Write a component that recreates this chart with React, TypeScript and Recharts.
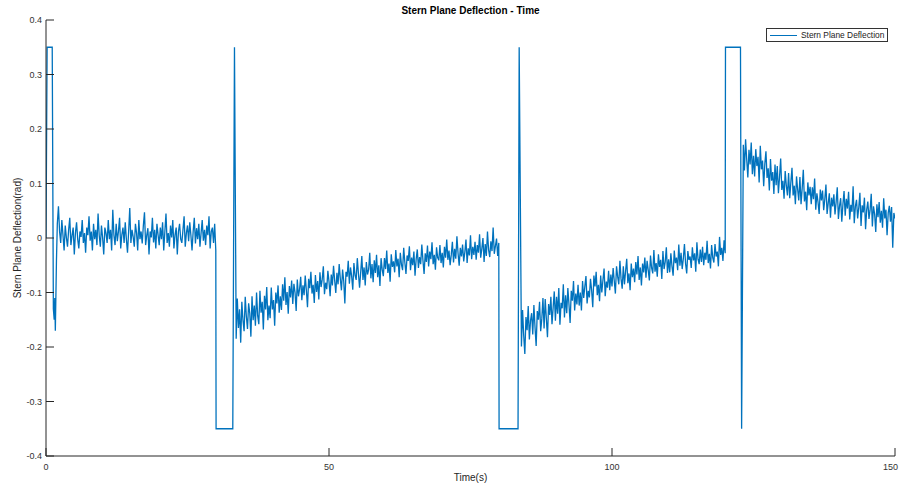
import { LineChart, Line, XAxis, YAxis } from 'recharts'

const FONT = '"Liberation Sans", Arial, Helvetica, sans-serif'
const AXIS = '#262626'
const BLUE = '#0072BD'

const xTicks = [0, 50, 100, 150]
const yTicks = [-0.4, -0.3, -0.2, -0.1, 0, 0.1, 0.2, 0.3, 0.4]

// sample spacing (s) of the noisy stretches; values below are in milli-rad
const STEP = 0.2

// step inputs between the noisy stretches: [time s, rad]
const pulseStart = [[0, 0], [0.2, 0.35], [1.1, 0.35], [1.3, -0.13], [1.45, -0.15], [1.55, -0.11], [1.65, -0.17], [1.85, -0.04]]
const pulseDown1 = [[30.05, -0.35], [33.0, -0.35], [33.3, 0.35]]
const pulseDown2 = [[80.05, -0.35], [83.4, -0.35], [83.6, 0.35]]
const pulseUp = [[120.05, 0.35], [122.7, 0.35], [122.9, -0.35]]

// t = 2.0 .. 30.0
const segA = [
  26, 58, 12, -9, 33, 5, -23, 23, 1, -16,
  15, 37, -13, 5, 19, -30, 9, 29, -2, -19,
  12, 2, 33, -9, 9, -27, 19, 5, 40, -5,
  12, -23, 26, -2, 15, -13, 45, 5, -16, 23,
  1, -30, 19, 9, -9, 33, -2, 15, -23, 52,
  5, -13, 26, -6, 12, 37, -19, 6, 19, -9,
  29, -2, -27, 12, 55, -9, 15, 2, -16, 26,
  9, -23, 33, -2, 12, -10, 23, 47, -13, 5,
  18, -30, 12, 1, 37, -8, 15, -19, 26, 6,
  -13, 19, -2, 29, -23, 12, 45, -9, 9, -16,
  23, 1, 33, -19, 6, 19, -30, 12, 26, -2,
  -9, 15, 40, -16, 9, 23, -6, 29, 5, -23,
  12, 37, -10, 18, -2, 26, -16, 9, 33, -5,
  15, -13, 23, 5, 40, -19, 12, 19, -9, 26,
  -23,
]

// t = 33.6 .. 80.0
const segB = [
  -185, -111, -165, -131, -192, -117, -151, -171, -108, -144,
  -167, -120, -138, -181, -107, -151, -124, -161, -100, -143,
  -158, -97, -137, -117, -168, -106, -131, -90, -151, -124,
  -147, -91, -131, -114, -161, -100, -120, -87, -137, -107,
  -132, -85, -115, -72, -123, -99, -139, -88, -109, -78,
  -121, -84, -100, -134, -76, -107, -94, -71, -114, -87,
  -105, -69, -96, -127, -75, -92, -62, -102, -86, -119,
  -68, -99, -79, -113, -63, -90, -76, -52, -103, -82,
  -94, -60, -80, -107, -67, -87, -51, -78, -101, -64,
  -85, -48, -75, -96, -58, -79, -120, -62, -71, -42,
  -84, -54, -70, -95, -46, -68, -77, -37, -65, -91,
  -63, -33, -77, -54, -87, -44, -67, -58, -27, -74,
  -48, -81, -41, -64, -31, -72, -50, -88, -37, -58,
  -70, -37, -57, -23, -64, -47, -80, -30, -53, -43,
  -63, -22, -52, -38, -72, -27, -49, -59, -18, -45,
  -66, -32, -42, -15, -59, -36, -50, -25, -69, -39,
  -21, -55, -35, -48, -12, -41, -66, -28, -44, -14,
  -52, -25, -39, -8, -48, -31, -58, -17, -36, -41,
  -13, -46, -27, -54, -16, -36, -3, -40, -23, -50,
  -31, -7, -45, -20, -38, 3, -28, -51, -18, -34,
  -12, -43, -26, -3, -46, -19, -32, 5, -39, -16,
  -31, -7, -40, -13, -27, 7, -36, -20, 0, -44,
  -11, -33, 12, -22, -35, -6, -24, 19, -29, -15,
  -1, -33, -9,
]

// t = 84.0 .. 120.0
const segC = [
  -199, -132, -179, -213, -145, -169, -125, -186, -152, -138,
  -177, -123, -164, -198, -134, -150, -117, -171, -148, -110,
  -166, -112, -148, -182, -121, -141, -108, -158, -128, -98,
  -152, -108, -139, -92, -159, -119, -129, -85, -146, -105,
  -138, -92, -122, -156, -97, -115, -79, -133, -102, -122,
  -86, -124, -100, -133, -79, -110, -89, -70, -120, -97,
  -109, -75, -96, -127, -69, -89, -62, -105, -86, -116,
  -69, -100, -77, -56, -107, -80, -91, -60, -96, -67,
  -89, -55, -79, -102, -52, -71, -85, -42, -75, -93,
  -52, -85, -61, -38, -83, -65, -96, -47, -72, -56,
  -81, -44, -67, -33, -77, -54, -87, -47, -63, -36,
  -73, -42, -59, -78, -32, -55, -65, -22, -62, -46,
  -71, -30, -53, -40, -75, -24, -57, -44, -17, -64,
  -39, -63, -28, -52, -69, -23, -46, -36, -59, -12,
  -51, -27, -57, -38, -11, -47, -65, -24, -40, -34,
  -55, -17, -41, -28, -62, -8, -39, -48, -21, -44,
  -16, -50, -27, -40, -5, -46, -29, -56, -13, -36,
  -45, -11, -34, -25, -52, 2, -31, -18, -42, -4,
  -28,
]

// t = 123.2 .. 150.0
const segD = [
  171, 124, 181, 144, 111, 162, 135, 175, 117, 151,
  113, 163, 132, 149, 102, 169, 126, 142, 95, 136,
  159, 110, 128, 87, 145, 105, 121, 81, 135, 97,
  132, 82, 112, 146, 88, 105, 72, 123, 96, 78,
  119, 73, 102, 129, 78, 96, 62, 113, 89, 69,
  112, 62, 91, 125, 67, 85, 51, 102, 78, 94,
  62, 93, 71, 109, 52, 82, 66, 44, 89, 69,
  87, 51, 71, 98, 44, 64, 82, 37, 74, 58,
  80, 43, 66, 93, 35, 59, 73, 30, 62, 86,
  41, 72, 54, 85, 34, 61, 48, 95, 27, 58,
  70, 36, 56, 83, 22, 60, 47, 74, 16, 52,
  67, 35, 51, 81, 21, 58, 44, 11, 62, 38,
  66, 28, 50, 19, 73, 36, 52, 5, 46, 59,
  30, 57, -18, 46, 36,
]

const points = (pts: number[][]) => pts.map(([t, v]) => ({ t, v }))
const sampled = (start: number, vals: number[]) =>
  vals.map((v, i) => ({ t: +(start + i * STEP).toFixed(2), v: v / 1000 }))

const data = [
  ...points(pulseStart),
  ...sampled(2.0, segA),
  ...points(pulseDown1),
  ...sampled(33.6, segB),
  ...points(pulseDown2),
  ...sampled(84.0, segC),
  ...points(pulseUp),
  ...sampled(123.2, segD),
]

const fmt = (v: number) => (v === 0 ? '0' : String(v))

const BottomTick = ({ x, y, payload }: any) => {
  // the last label would run past the right edge of the figure, keep it inside
  const last = payload.value === xTicks[xTicks.length - 1]
  return (
    <g>
      <line x1={x} x2={x} y1={y} y2={y - 8} stroke={AXIS} />
      <text
        x={last ? x + 3 : x}
        y={y + 14}
        textAnchor={last ? 'end' : 'middle'}
        fontSize={9}
        fontFamily={FONT}
        fill="#333"
      >
        {fmt(payload.value)}
      </text>
    </g>
  )
}

const LeftTick = ({ x, y, payload }: any) => (
  <g>
    <line x1={x} x2={x + 8} y1={y} y2={y} stroke={AXIS} />
    <text x={x - 4} y={y + 3} textAnchor="end" fontSize={9} fontFamily={FONT} fill="#333">
      {fmt(payload.value)}
    </text>
  </g>
)

const TopTick = ({ x, y }: any) => <line x1={x} x2={x} y1={y} y2={y + 8} stroke={AXIS} />
const RightTick = ({ x, y }: any) => <line x1={x} x2={x - 8} y1={y} y2={y} stroke={AXIS} />

export default function App() {
  return (
    <div style={{ position: 'absolute', left: 0, top: 0, width: 899, height: 486, background: '#fff', fontFamily: FONT }}>
      <LineChart width={899} height={486} data={data} margin={{ top: 20, right: 4, bottom: 0, left: 0 }}>
        <XAxis
          dataKey="t"
          type="number"
          domain={[0, 150]}
          ticks={xTicks}
          interval={0}
          height={30}
          tickSize={0}
          tickMargin={0}
          tickLine={false}
          tick={<BottomTick />}
          axisLine={{ stroke: AXIS }}
          allowDataOverflow
        />
        <XAxis
          xAxisId="top"
          orientation="top"
          type="number"
          domain={[0, 150]}
          ticks={xTicks}
          interval={0}
          height={0}
          tickSize={0}
          tickMargin={0}
          tickLine={false}
          tick={<TopTick />}
          axisLine={{ stroke: AXIS }}
        />
        <YAxis
          type="number"
          domain={[-0.4, 0.4]}
          ticks={yTicks}
          interval={0}
          width={46}
          tickSize={0}
          tickMargin={0}
          tickLine={false}
          tick={<LeftTick />}
          axisLine={{ stroke: AXIS }}
          allowDataOverflow
        />
        <YAxis
          yAxisId="right"
          orientation="right"
          type="number"
          domain={[-0.4, 0.4]}
          ticks={yTicks}
          interval={0}
          width={0}
          tickSize={0}
          tickMargin={0}
          tickLine={false}
          tick={<RightTick />}
          axisLine={{ stroke: AXIS }}
        />
        <Line
          dataKey="v"
          name="Stern Plane Deflection"
          type="linear"
          stroke={BLUE}
          strokeWidth={1.3}
          dot={false}
          isAnimationActive={false}
        />
      </LineChart>

      {/* legend box, top right inside the axes */}
      <div
        style={{
          position: 'absolute',
          left: 766,
          top: 28,
          display: 'flex',
          alignItems: 'center',
          border: '1px solid #333',
          background: '#fff',
          height: 12,
          padding: '0 3px',
          fontSize: 8.4,
          color: '#222',
          whiteSpace: 'nowrap',
        }}
      >
        <span style={{ display: 'inline-block', width: 27, height: 0, borderTop: `1px solid ${BLUE}`, marginRight: 4 }} />
        Stern Plane Deflection
      </div>

      <div
        style={{
          position: 'absolute',
          left: 46,
          width: 849,
          top: 5,
          textAlign: 'center',
          fontSize: 10,
          fontWeight: 'bold',
          color: '#000',
        }}
      >
        Stern Plane Deflection - Time
      </div>
      <div style={{ position: 'absolute', left: 46, width: 849, top: 472, textAlign: 'center', fontSize: 10, color: '#262626' }}>
        Time(s)
      </div>
      <div
        style={{
          position: 'absolute',
          left: 17,
          top: 238,
          transform: 'translate(-50%, -50%) rotate(-90deg)',
          whiteSpace: 'nowrap',
          fontSize: 10,
          color: '#262626',
        }}
      >
        Stern Plane Deflection(rad)
      </div>
    </div>
  )
}
